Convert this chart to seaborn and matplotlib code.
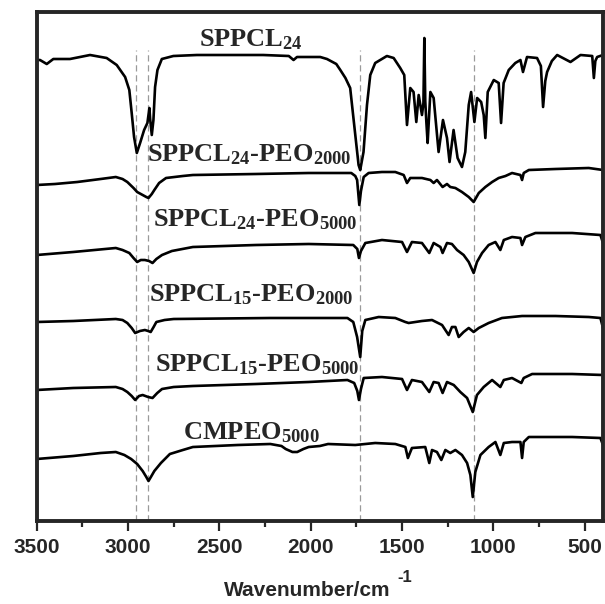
import matplotlib
matplotlib.use("Agg")
import matplotlib.pyplot as plt
import seaborn as sns
import pandas as pd

# ---------------- data (wavenumber cm-1, transmittance a.u. incl. stacking offset) ----------------
wn_sppcl24 = [3500, 3482, 3445, 3409, 3318, 3208, 3117, 3062, 3016, 2993, 2980, 2967, 2952, 2934, 2912,
              2894, 2883, 2879, 2870, 2861, 2852, 2839, 2815, 2752, 2623, 2260, 2120, 2094, 2075, 1948,
              1911, 1860, 1838, 1810, 1784, 1756, 1738, 1729, 1711, 1692, 1674, 1647, 1583, 1546, 1510,
              1488, 1473, 1455, 1437, 1422, 1409, 1391, 1383, 1378, 1373, 1367, 1360, 1345, 1327, 1300,
              1276, 1254, 1240, 1218, 1196, 1172, 1154, 1135, 1122, 1104, 1089, 1067, 1053, 1044, 1031,
              998, 971, 958, 944, 916, 880, 852, 838, 816, 761, 740, 728, 716, 706, 680,
              651, 578, 523, 459, 450, 442, 432, 400]
t_sppcl24 = [461, 461, 457, 462, 462, 466, 463, 456, 444, 431, 408, 384, 368, 378, 391,
             398, 413, 402, 386, 401, 434, 451, 462, 465, 466, 466, 465, 461, 464, 464,
             462, 457, 451, 443, 433, 386, 356, 351, 369, 416, 446, 458, 465, 463, 453,
             446, 396, 433, 429, 399, 426, 406, 418, 483, 420, 399, 378, 429, 423, 369,
             401, 383, 359, 391, 363, 354, 369, 416, 429, 399, 423, 419, 406, 383, 429,
             441, 438, 398, 438, 451, 458, 461, 449, 464, 463, 455, 414, 440, 449, 460,
             466, 459, 466, 465, 443, 460, 464, 466]

wn_24_2000 = [3500, 3400, 3278, 3150, 3067, 3030, 3004, 2970, 2950, 2920, 2900, 2888, 2870, 2856, 2830,
              2792, 2700, 2645, 2300, 2011, 1778, 1756, 1746, 1734, 1725, 1710, 1683, 1610, 1537, 1491,
              1473, 1455, 1391, 1345, 1327, 1309, 1278, 1254, 1236, 1208, 1172, 1135, 1108, 1080, 1044,
              1007, 971, 934, 898, 852, 843, 834, 806, 660, 478, 400]
t_24_2000 = [336, 337, 339, 342, 344, 342, 339, 333, 329, 326, 324, 323, 327, 331, 338,
             343, 345, 346, 347, 348, 348, 345, 341, 316, 330, 344, 348, 349, 349, 346,
             338, 343, 343, 341, 338, 341, 334, 337, 334, 333, 329, 324, 319, 328, 334,
             339, 343, 345, 348, 346, 341, 348, 351, 352, 353, 351]

wn_24_5000 = [3500, 3300, 3067, 3030, 2993, 2970, 2950, 2930, 2908, 2885, 2866, 2845, 2814, 2760, 2645,
              2300, 2011, 1767, 1745, 1736, 1725, 1701, 1610, 1500, 1473, 1446, 1391, 1351, 1327, 1290,
              1278, 1254, 1227, 1199, 1163, 1135, 1108, 1090, 1062, 1026, 989, 962, 943, 898, 852,
              843, 825, 770, 569, 414, 400]
t_24_5000 = [266, 269, 273, 271, 268, 263, 259, 261, 261, 260, 258, 262, 266, 270, 274,
             276, 277, 276, 272, 263, 270, 278, 281, 279, 269, 279, 278, 268, 278, 274,
             268, 278, 277, 271, 266, 259, 248, 259, 268, 276, 279, 271, 281, 284, 283,
             276, 284, 288, 288, 286, 278]

wn_15_2000 = [3500, 3300, 3067, 3030, 3004, 2980, 2961, 2935, 2908, 2890, 2876, 2860, 2845, 2800, 2750,
              2221, 1799, 1767, 1746, 1729, 1718, 1701, 1628, 1537, 1482, 1464, 1391, 1336, 1281, 1245,
              1227, 1208, 1190, 1163, 1135, 1108, 1080, 1026, 953, 843, 660, 478, 414, 400]
t_15_2000 = [199, 200, 202, 201, 198, 193, 188, 190, 191, 190, 189, 194, 199, 201, 202,
             203, 203, 199, 184, 164, 190, 201, 204, 203, 199, 198, 200, 201, 196, 186,
             194, 194, 184, 189, 193, 189, 193, 198, 203, 205, 205, 204, 203, 193]

wn_15_5000 = [3500, 3300, 3067, 3030, 3004, 2980, 2961, 2940, 2920, 2890, 2866, 2840, 2814, 2750, 2645,
              2300, 2011, 1799, 1762, 1745, 1736, 1725, 1710, 1610, 1500, 1473, 1446, 1391, 1351, 1327,
              1300, 1278, 1254, 1217, 1181, 1144, 1113, 1090, 1053, 1007, 962, 943, 898, 847, 834,
              788, 569, 400]
t_15_5000 = [131, 133, 134, 132, 129, 125, 121, 125, 126, 124, 123, 128, 132, 134, 135,
             137, 139, 141, 138, 130, 121, 132, 143, 144, 142, 131, 141, 139, 129, 139,
             138, 128, 139, 136, 129, 123, 109, 126, 134, 141, 134, 141, 143, 138, 143,
             147, 147, 146]

wn_cmpeo = [3500, 3300, 3150, 3067, 3020, 2983, 2950, 2920, 2900, 2888, 2875, 2856, 2820, 2771, 2700,
            2645, 2400, 2221, 2160, 2137, 2100, 2074, 2040, 2011, 1950, 1905, 1756, 1647, 1537, 1482,
            1468, 1446, 1373, 1351, 1336, 1309, 1285, 1263, 1236, 1208, 1172, 1144, 1126, 1113, 1099,
            1071, 1026, 989, 962, 943, 898, 852, 843, 834, 806, 569, 414, 400]
t_cmpeo = [62, 65, 68, 69, 66, 62, 57, 50, 44, 40, 44, 50, 58, 67, 71,
           74, 76, 77, 75, 72, 69, 69, 72, 74, 75, 77, 76, 78, 77, 74,
           63, 73, 74, 58, 71, 69, 61, 71, 68, 71, 66, 58, 46, 24, 49,
           66, 74, 79, 66, 78, 79, 79, 63, 79, 84, 84, 83, 76]

series = [
    (r"SPPCL$_{24}$", wn_sppcl24, t_sppcl24),
    (r"SPPCL$_{24}$-PEO$_{2000}$", wn_24_2000, t_24_2000),
    (r"SPPCL$_{24}$-PEO$_{5000}$", wn_24_5000, t_24_5000),
    (r"SPPCL$_{15}$-PEO$_{2000}$", wn_15_2000, t_15_2000),
    (r"SPPCL$_{15}$-PEO$_{5000}$", wn_15_5000, t_15_5000),
    (r"CMPEO$_{5000}$", wn_cmpeo, t_cmpeo),
]

marker_lines = [2955, 2889, 1731, 1107]
xticks = [3500, 3000, 2500, 2000, 1500, 1000, 500]

# ---------------- style ----------------
sns.set_style("ticks")
plt.rcParams["font.family"] = ["Liberation Sans", "DejaVu Sans"]
plt.rcParams["mathtext.fontset"] = "custom"
plt.rcParams["mathtext.rm"] = "Liberation Serif:bold"
plt.rcParams["mathtext.it"] = "Liberation Serif:bold"
plt.rcParams["mathtext.bf"] = "Liberation Serif:bold"

fig = plt.figure(figsize=(6.05, 6.04), dpi=100)
ax = fig.add_axes([36.7 / 605, 1 - 521 / 604, (603 - 36.7) / 605, (521 - 12) / 604])

for name, wn, t in series:
    df = pd.DataFrame({"wn": wn, "t": t})
    sns.lineplot(data=df, x="wn", y="t", ax=ax, color="black", lw=1.9,
                 estimator=None, sort=False, legend=False)

ax.vlines(marker_lines, 0, 471, colors="#9a9a9a", linestyles=(0, (5, 3)), lw=0.9, zorder=0)

# labels (x in wavenumber, y in a.u.)
label_pos = [(2326, 481), (2337, 366), (2304, 301), (2326, 226), (2293, 156), (2326, 88)]
for (name, _, _), (lx, ly) in zip(series, label_pos):
    ax.text(lx, ly, name, ha="center", va="center", fontsize=19,
            family="Liberation Serif", fontweight="bold")

ax.set_xlim(3500, 400)
ax.set_ylim(0, 509)
ax.set_xticks(xticks)
ax.set_xticks(range(3250, 399, -500), minor=True)
ax.set_yticks([])
ax.set_xlabel("")
ax.set_ylabel("")
for lab in ax.get_xticklabels():
    lab.set_fontweight("bold")
ax.tick_params(axis="x", which="major", direction="out", length=7, width=1.6, labelsize=15, pad=5)
ax.tick_params(axis="x", which="minor", direction="out", length=4, width=1.6)
for sp in ax.spines.values():
    sp.set_visible(True)
    sp.set_linewidth(2.8)

# axis title with raised "-1"
fig.text(307 / 605, 1 - 591 / 604, "Wavenumber/cm", ha="center", va="center",
         fontsize=15, fontweight="bold")
fig.text(397 / 605, 1 - 578 / 604, "-1", ha="left", va="center",
         fontsize=12, fontweight="bold")

fig.savefig("out.png", dpi=100)
